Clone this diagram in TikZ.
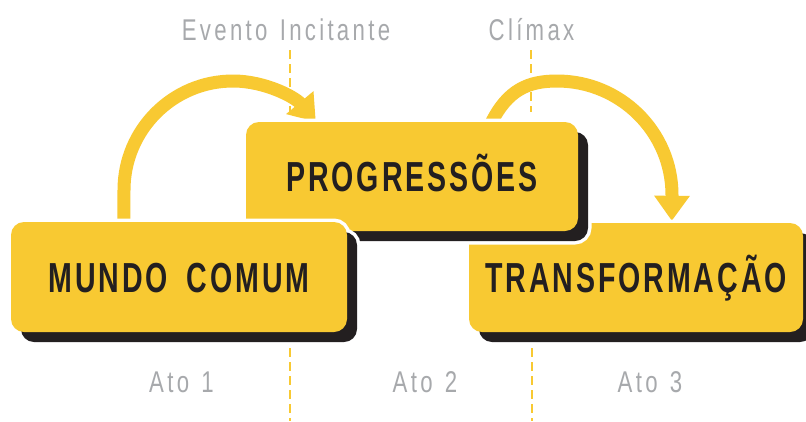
\documentclass[tikz,border=0pt]{standalone}
\usepackage{fontspec}
\setmainfont{Liberation Sans}
\newfontfamily\stagefont{Liberation Sans}[FakeStretch=0.68,LetterSpace=7,WordSpace=1.7]
\newfontfamily\notefont{Liberation Sans}[FakeStretch=0.74,LetterSpace=11,WordSpace=1.3]
\usetikzlibrary{arrows.meta}

\definecolor{gold}{HTML}{F8C932}
\definecolor{ink}{HTML}{231F20}
\definecolor{notegray}{HTML}{A7A9AC}

\tikzset{
  stage/.style={
    rounded corners=13pt, fill=gold, inner sep=0pt,
    text height=30pt, text depth=0pt, text=ink,
    font=\stagefont\bfseries\fontsize{42}{42}\selectfont,
    preaction={draw=white, line width=7pt},
    preaction={draw=white, line width=7pt, transform canvas={xshift=10pt,yshift=-10pt}},
    preaction={fill=ink, transform canvas={xshift=10pt,yshift=-10pt}}
  },
  note/.style={anchor=base, inner sep=0pt, text=notegray,
    font=\notefont\fontsize{30}{30}\selectfont},
  actline/.style={draw=gold, line width=2pt, dash pattern=on 9pt off 5pt},
  flow/.style={draw=gold, line width=13pt,
    -{Triangle[width=34pt,length=25pt]}}
}

\begin{document}
\begin{tikzpicture}[x=1pt,y=-1pt]
  \fill[white] (0,0) rectangle (806,421);
  \clip (0,0) rectangle (806,421);

  % act dividers, lower part
  \draw[actline] (290,348) -- (290,421);
  \draw[actline] (532,348) -- (532,421);

  % invisible anchors for the stage boxes, used by the arrows
  \path (180,277)   node[minimum width=336pt, minimum height=110pt, inner sep=0pt] (mundoA) {};
  \path (411,176.5) node[minimum width=332pt, minimum height=109pt, inner sep=0pt] (progA) {};
  \path (636,277.5) node[minimum width=334pt, minimum height=109pt, inner sep=0pt] (transA) {};

  \coordinate (a1s) at ([xshift=112pt]mundoA.north west);
  \coordinate (a1e) at ([xshift=71pt]progA.north west);
  \coordinate (a2s) at ([xshift=247pt]progA.north west);
  \coordinate (a2e) at ([xshift=203pt,yshift=2pt]transA.north west);

  % arrows
  \draw[flow] (a1s) -- (124,190) .. controls (124,129.8) and (172.8,81) .. (233,81)
    .. controls (265.2,81) and (295.3,97.3) .. (a1e);
  \draw[flow] (a2s) .. controls (508,90) and (528,81) .. (557,81)
    .. controls (620.5,81) and (672,132) .. (672,195) -- (a2e);

  % act dividers, upper part
  \draw[actline] (290,50) -- (290,112);
  \draw[actline] (531,50) -- (531,112);

  % stage boxes
  \node[stage, minimum width=334pt, minimum height=109pt] (trans) at (636,277.5) {TRANSFORMAÇÃO};
  \node[stage, minimum width=332pt, minimum height=109pt] (prog) at (412,176.5) {PROGRESSÕES};
  \node[stage, minimum width=336pt, minimum height=110pt] (mundo) at (179,277) {MUNDO COMUM};

  % labels
  \node[note] (incit) at (286,40) {Evento Incitante};
  \node[note] (climax) at (531.5,40) {Clímax};
  \node[note] (ato1) at (181.5,392) {Ato 1};
  \node[note] (ato2) at (425,392) {Ato 2};
  \node[note] (ato3) at (650,392) {Ato 3};
\end{tikzpicture}
\end{document}
